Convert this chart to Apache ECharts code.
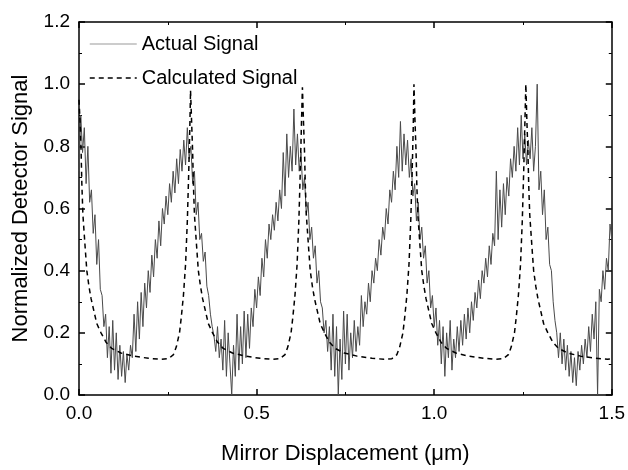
<!DOCTYPE html>
<html>
<head>
<meta charset="utf-8">
<script src="https://cdn.jsdelivr.net/npm/echarts@6/dist/echarts.min.js"></script>
<style>
html,body{margin:0;padding:0;background:#fff;}
#chart{width:628px;height:470px;}
</style>
</head>
<body>
<div id="chart"></div>
<script>
// ---- Data ----
const seriesNames = ['Actual Signal', 'Calculated Signal'];
const xTickLabels = ['0.0', '0.5', '1.0', '1.5'];
const yTickLabels = ['0.0', '0.2', '0.4', '0.6', '0.8', '1.0', '1.2'];

// Actual (measured) signal, sampled every 0.005 µm starting at 0.000
const actualStart = 0.0;
const actualStep = 0.005;
const actualY = [
  0.72,0.90,0.78,0.86,0.68,0.80,0.62,0.66,0.52,0.58,
  0.42,0.50,0.34,0.32,0.22,0.26,0.12,0.22,0.07,0.24,
  0.08,0.20,0.05,0.16,0.06,0.14,0.04,0.13,0.08,0.16,
  0.12,0.26,0.14,0.30,0.18,0.33,0.22,0.36,0.28,0.40,
  0.33,0.45,0.38,0.50,0.44,0.56,0.48,0.60,0.55,0.64,
  0.58,0.68,0.62,0.72,0.65,0.76,0.68,0.79,0.72,0.82,
  0.74,0.86,0.76,0.80,0.68,0.72,0.58,0.62,0.50,0.52,
  0.43,0.46,0.35,0.32,0.26,0.22,0.19,0.14,0.22,0.12,
  0.18,0.08,0.24,0.06,0.20,0.10,0.00,0.16,0.06,0.26,
  0.08,0.22,0.10,0.27,0.12,0.26,0.15,0.28,0.22,0.34,
  0.28,0.38,0.32,0.44,0.38,0.50,0.44,0.55,0.50,0.58,
  0.53,0.62,0.56,0.66,0.60,0.78,0.64,0.84,0.70,0.80,
  0.72,0.92,0.74,0.84,0.72,0.78,0.66,0.70,0.58,0.62,
  0.50,0.54,0.44,0.48,0.36,0.40,0.30,0.28,0.20,0.24,
  0.14,0.22,0.08,0.26,0.06,0.22,0.00,0.18,0.05,0.27,
  0.10,0.26,0.08,0.20,0.12,0.24,0.14,0.22,0.16,0.32,
  0.22,0.30,0.26,0.36,0.30,0.40,0.36,0.44,0.40,0.50,
  0.45,0.54,0.50,0.60,0.55,0.66,0.62,0.72,0.66,0.80,
  0.70,0.88,0.72,0.84,0.74,0.82,0.70,0.76,0.64,0.68,
  0.56,0.62,0.50,0.54,0.44,0.48,0.36,0.40,0.28,0.32,
  0.22,0.28,0.16,0.24,0.10,0.22,0.06,0.20,0.12,0.24,
  0.08,0.18,0.12,0.22,0.14,0.24,0.16,0.26,0.18,0.28,
  0.20,0.30,0.24,0.33,0.28,0.37,0.31,0.40,0.36,0.44,
  0.38,0.48,0.42,0.52,0.48,0.72,0.50,0.66,0.54,0.68,
  0.58,0.70,0.64,0.76,0.70,0.80,0.72,0.86,0.74,0.90,
  0.76,0.84,0.74,0.82,0.76,0.86,0.72,0.80,1.00,0.66,
  0.72,0.58,0.66,0.50,0.54,0.42,0.40,0.30,0.24,0.20,
  0.12,0.20,0.10,0.18,0.08,0.16,0.06,0.14,0.04,0.12,
  0.03,0.14,0.08,0.16,0.10,0.18,0.12,0.22,0.14,0.26,
  0.18,0.30,0.00,0.34,0.30,0.40,0.34,0.44,0.40,0.55,
  0.50
];

// Calculated signal (read point by point)
const calcX = [
  0.000,0.003,0.006,0.008,0.011,0.017,0.022,0.028,0.034,0.042,0.050,0.062,0.076,0.092,0.118,0.154,0.196,0.230,0.252,0.266,0.274,0.283,0.288,0.294,0.300,0.305,0.309,0.312,
  0.314,0.317,0.320,0.322,0.325,0.331,0.336,0.342,0.348,0.356,0.364,0.376,0.390,0.406,0.432,0.468,0.510,0.544,0.566,0.580,0.588,0.597,0.602,0.608,0.614,0.619,0.623,0.626,
  0.629,0.632,0.635,0.637,0.640,0.646,0.651,0.657,0.663,0.671,0.679,0.691,0.705,0.721,0.747,0.783,0.825,0.859,0.881,0.895,0.903,0.912,0.917,0.923,0.929,0.934,0.938,0.941,
  0.943,0.946,0.949,0.951,0.954,0.960,0.965,0.971,0.977,0.985,0.993,1.005,1.019,1.035,1.061,1.097,1.139,1.173,1.195,1.209,1.217,1.226,1.231,1.237,1.243,1.248,1.252,1.255,
  1.258,1.261,1.264,1.266,1.269,1.275,1.280,1.286,1.292,1.300,1.308,1.320,1.334,1.350,1.376,1.412,1.454,1.488,1.500
];
const calcY = [
  0.95,0.88,0.78,0.68,0.58,0.48,0.40,0.35,0.31,0.27,0.23,0.20,0.17,0.15,0.135,0.125,0.118,0.115,0.117,0.13,0.155,0.20,0.25,0.32,0.42,0.56,0.72,0.86,
  0.98,0.88,0.78,0.68,0.58,0.48,0.40,0.35,0.31,0.27,0.23,0.20,0.17,0.15,0.135,0.125,0.118,0.115,0.117,0.13,0.155,0.20,0.25,0.32,0.42,0.56,0.72,0.86,
  0.99,0.88,0.78,0.68,0.58,0.48,0.40,0.35,0.31,0.27,0.23,0.20,0.17,0.15,0.135,0.125,0.118,0.115,0.117,0.13,0.155,0.20,0.25,0.32,0.42,0.56,0.72,0.86,
  1.00,0.88,0.78,0.68,0.58,0.48,0.40,0.35,0.31,0.27,0.23,0.20,0.17,0.15,0.135,0.125,0.118,0.115,0.117,0.13,0.155,0.20,0.25,0.32,0.42,0.56,0.72,0.86,
  1.00,0.88,0.78,0.68,0.58,0.48,0.40,0.35,0.31,0.27,0.23,0.20,0.17,0.15,0.135,0.125,0.118,0.115,0.116
];

const xName = 'Mirror Displacement (\u03bcm)';
const yName = 'Normalized Detector Signal';

// ---- Chart ----
const FONT = 'Liberation Sans, Arial, Helvetica, sans-serif';
const actualData = actualY.map((y, i) => [+(actualStart + i * actualStep).toFixed(3), y]);
const calcData = calcX.map((x, i) => [x, calcY[i]]);

const chart = echarts.init(document.getElementById('chart'), null, {renderer: 'canvas'});

function axisCommon() {
  return {
    axisLine: {show: true, onZero: false, lineStyle: {color: '#000', width: 1.5}},
    axisTick: {show: true, inside: true, length: 6, lineStyle: {color: '#000', width: 1.5}},
    minorTick: {show: true, splitNumber: 2, length: 3, lineStyle: {color: '#000', width: 1}},
    splitLine: {show: false},
    minorSplitLine: {show: false}
  };
}

const option = {
  animation: false,
  backgroundColor: '#fff',
  grid: {left: 79, right: 13, top: 22, bottom: 68, containLabel: false},
  legend: {
    orient: 'vertical',
    left: 84,
    top: 29,
    itemWidth: 47,
    itemHeight: 14,
    itemGap: 14,
    data: [
      {name: seriesNames[0], itemStyle: {opacity: 0}, lineStyle: {color: '#999', width: 1}},
      {name: seriesNames[1], itemStyle: {opacity: 0}, lineStyle: {color: '#000', width: 1.5}}
    ],
    textStyle: {fontFamily: FONT, fontSize: 20, color: '#000'}
  },
  xAxis: [
    Object.assign({
      type: 'value', position: 'bottom', min: 0, max: 1.5, interval: 0.5,
      name: xName, nameLocation: 'middle', nameGap: 48,
      nameTextStyle: {fontFamily: FONT, fontSize: 22, color: '#000'},
      axisLabel: {show: true, margin: 9, fontFamily: FONT, fontSize: 19, color: '#000',
        formatter: v => xTickLabels[Math.round(v / 0.5)]}
    }, axisCommon()),
    Object.assign({
      type: 'value', position: 'top', min: 0, max: 1.5, interval: 0.5,
      axisLabel: {show: false}
    }, axisCommon())
  ],
  yAxis: [
    Object.assign({
      type: 'value', position: 'left', min: 0, max: 1.2, interval: 0.2,
      name: yName, nameLocation: 'middle', nameGap: 47,
      nameTextStyle: {fontFamily: FONT, fontSize: 22, color: '#000'},
      axisLabel: {show: true, margin: 9, fontFamily: FONT, fontSize: 19, color: '#000',
        formatter: v => yTickLabels[Math.round(v / 0.2)]}
    }, axisCommon()),
    Object.assign({
      type: 'value', position: 'right', min: 0, max: 1.2, interval: 0.2,
      axisLabel: {show: false}
    }, axisCommon())
  ],
  series: [
    {
      name: seriesNames[0], type: 'line', xAxisIndex: 0, yAxisIndex: 0,
      data: actualData, showSymbol: false, symbol: 'none', clip: true,
      lineStyle: {color: '#4a4a4a', width: 1},
      itemStyle: {color: '#999'},
      z: 2
    },
    {
      name: seriesNames[1], type: 'line', xAxisIndex: 0, yAxisIndex: 0,
      data: calcData, showSymbol: false, symbol: 'none', clip: true,
      lineStyle: {color: '#000', width: 1.5, type: [5, 4]},
      itemStyle: {color: '#000'},
      z: 3
    }
  ]
};
chart.setOption(option);
</script>
</body>
</html>
